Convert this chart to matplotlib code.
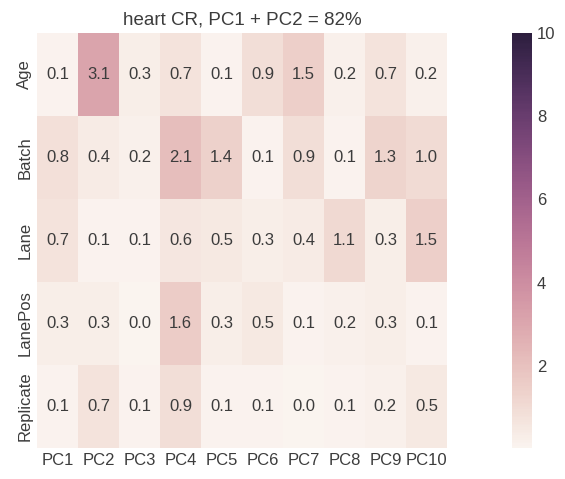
import numpy as np
import pandas as pd
import seaborn as sns
import matplotlib
matplotlib.use("Agg")
import matplotlib.pyplot as plt

# Variance explained (%) by each covariate for the first 10 PCs
pcs = ["PC1", "PC2", "PC3", "PC4", "PC5", "PC6", "PC7", "PC8", "PC9", "PC10"]
covariates = ["Age", "Batch", "Lane", "LanePos", "Replicate"]
age = [0.1, 3.1, 0.3, 0.7, 0.1, 0.9, 1.5, 0.2, 0.7, 0.2]
batch = [0.8, 0.4, 0.2, 2.1, 1.4, 0.1, 0.9, 0.1, 1.3, 1.0]
lane = [0.7, 0.1, 0.1, 0.6, 0.5, 0.3, 0.4, 1.1, 0.3, 1.5]
lanepos = [0.3, 0.3, 0.0, 1.6, 0.3, 0.5, 0.1, 0.2, 0.3, 0.1]
replicate = [0.1, 0.7, 0.1, 0.9, 0.1, 0.1, 0.0, 0.1, 0.2, 0.5]

df = pd.DataFrame([age, batch, lane, lanepos, replicate], index=covariates, columns=pcs)

sns.set_style("white")
plt.rcParams["font.family"] = ["Liberation Sans", "DejaVu Sans"]
plt.rcParams["text.color"] = "#3c3c3c"
plt.rcParams["xtick.color"] = "#3c3c3c"
plt.rcParams["ytick.color"] = "#3c3c3c"

fig = plt.figure(figsize=(5.65, 4.79), dpi=100)
ax = fig.add_axes([0.0655, 0.0647, 0.7255, 0.8663])
cax = fig.add_axes([0.906, 0.0647, 0.036, 0.8663])

cmap = sns.cubehelix_palette(light=0.96, as_cmap=True)
sns.heatmap(df, ax=ax, cbar_ax=cax, cmap=cmap, vmin=0.02, vmax=10,
            annot=True, fmt=".1f", annot_kws={"size": 12, "color": "#3c3c3c"})

ax.set_title("heart CR, PC1 + PC2 = 82%", fontsize=13.5)
ax.tick_params(axis="both", length=0, labelsize=12)
ax.set_yticklabels(covariates, rotation=90, va="center")
ax.set_xticklabels(pcs, rotation=0)
cax.set_yticks([2, 4, 6, 8, 10])
cax.tick_params(length=0, labelsize=12)
for s in cax.spines.values():
    s.set_visible(False)

fig.savefig("out.png", dpi=100)
